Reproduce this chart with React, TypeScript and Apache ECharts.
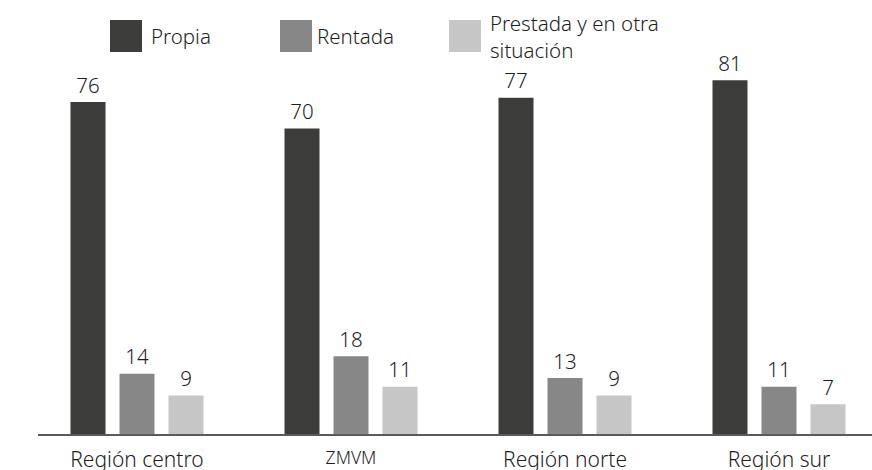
import React, { useEffect, useRef } from "react";
import * as echarts from "echarts";

const categories = ["Región centro", "ZMVM", "Región norte", "Región sur"];
const seriesNames = ["Propia", "Rentada", "Prestada y en otra situación"];
const propia = [76, 70, 77, 81];
const rentada = [14, 18, 13, 11];
const prestada = [9, 11, 9, 7];
const colors = ["#3c3c3b", "#878787", "#c6c6c6"];

const FONT = "'Noto Sans', 'Open Sans', sans-serif";
const TXT = "#1e1e1e";

export default function App() {
  const ref = useRef<HTMLDivElement>(null);
  useEffect(() => {
    document.body.style.margin = "0";
    if (!ref.current) return;
    const chart = echarts.init(ref.current, undefined, { renderer: "svg" });
    const values = [propia, rentada, prestada];
    const legendLefts = [110, 280, 449];
    const legendTops = [20, 20, 9];
    chart.setOption({
      animation: false,
      textStyle: { fontFamily: FONT },
      grid: {
        left: 30,
        width: 856,
        top: 40.8,
        bottom: 35,
        containLabel: false,
        outerBoundsMode: "none",
      },
      legend: seriesNames.map((n, i) => ({
        data: [n],
        left: legendLefts[i],
        top: legendTops[i],
        padding: 0,
        itemWidth: 32,
        itemHeight: 32,
        itemGap: 0,
        icon: "rect",
        selectedMode: false,
        formatter: (name: string) =>
          name === "Prestada y en otra situación" ? "Prestada y en otra\nsituación" : name,
        textStyle: {
          fontFamily: FONT,
          fontSize: 20.5,
          fontWeight: 300,
          color: TXT,
          lineHeight: 27,
          padding: [0, 0, 0, i === 1 ? 0 : 4],
        },
      })),
      xAxis: {
        type: "category",
        data: categories,
        axisLine: { show: false },
        axisTick: { show: false },
        axisLabel: {
          margin: 13,
          fontFamily: FONT,
          fontSize: 21,
          fontWeight: 300,
          color: TXT,
          hideOverlap: false,
          interval: 0,
          formatter: (v: string) => (v === "ZMVM" ? "{s|" + v + "}" : v),
          rich: { s: { fontSize: 17.5, fontWeight: 300, fontFamily: FONT, color: TXT } },
        },
      },
      yAxis: { type: "value", min: 0, max: 90, show: false, splitLine: { show: false } },
      series: seriesNames.map((n, i) => ({
        name: n,
        type: "bar",
        data: values[i],
        barWidth: 35,
        barGap: "40%",
        itemStyle: { color: colors[i] },
        label: {
          show: true,
          position: "top",
          distance: 7,
          fontFamily: FONT,
          fontSize: 20.5,
          fontWeight: 300,
          color: TXT,
        },
      })),
      graphic: [
        {
          type: "line",
          shape: { x1: 38, y1: 435, x2: 872, y2: 435 },
          style: { stroke: "#5a5a5a", lineWidth: 2 },
          z: 10,
        },
      ],
    });
    return () => chart.dispose();
  }, []);
  return <div ref={ref} style={{ width: 872, height: 470 }} />;
}
